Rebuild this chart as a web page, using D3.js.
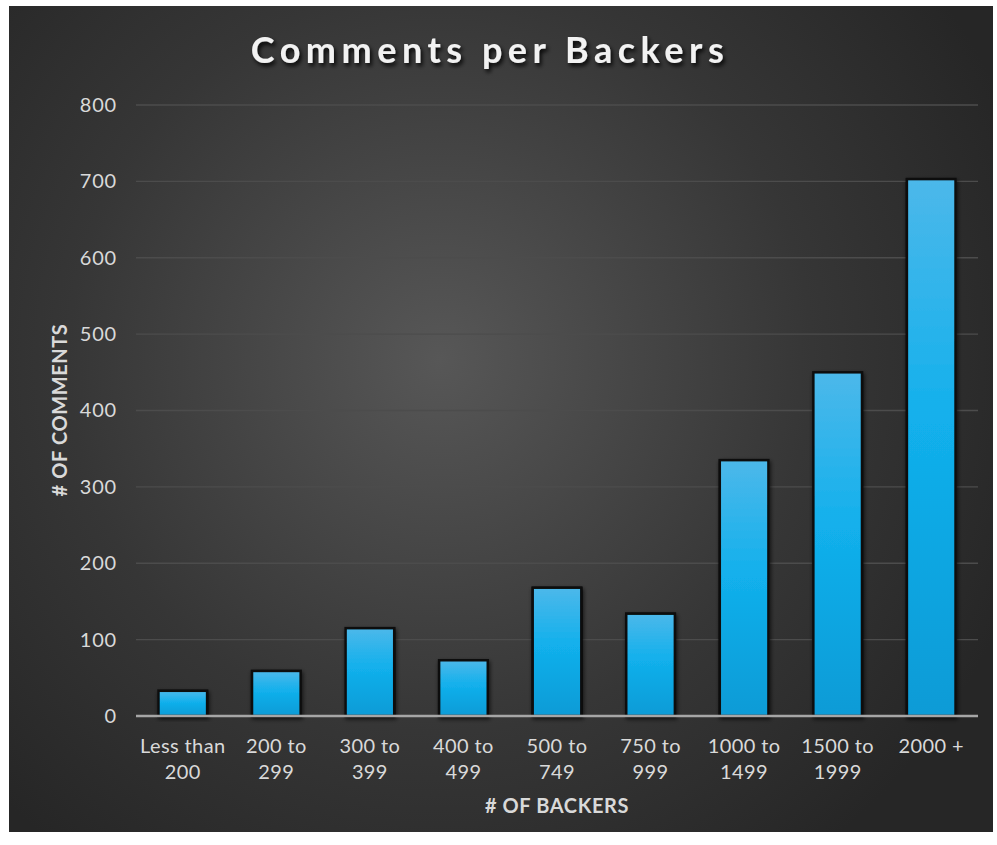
<!DOCTYPE html>
<html><head><meta charset="utf-8">
<script src="https://cdn.jsdelivr.net/npm/d3@7"></script>
<style>html,body{margin:0;padding:0;background:#fff;}svg{display:block;}</style>
</head><body>
<script>
const categories = [["Less than","200"],["200 to","299"],["300 to","399"],["400 to","499"],["500 to","749"],["750 to","999"],["1000 to","1499"],["1500 to","1999"],["2000 +"]];
const values = [33, 59, 115, 73, 168, 134, 335, 450, 703];
const yTicks = [0,100,200,300,400,500,600,700,800];
const title = "Comments per Backers";
const xTitle = "# OF BACKERS";
const yTitle = "# OF COMMENTS";

const W = 997, H = 845;
const svg = d3.select("body").append("svg").attr("width", W).attr("height", H);
const defs = svg.append("defs");
const rg = defs.append("radialGradient").attr("id","bg").attr("gradientUnits","userSpaceOnUse")
  .attr("cx",440).attr("cy",360).attr("r",620);
rg.append("stop").attr("offset","0%").attr("stop-color","#575757");
rg.append("stop").attr("offset","60%").attr("stop-color","#363636");
rg.append("stop").attr("offset","100%").attr("stop-color","#262626");
const bg = defs.append("linearGradient").attr("id","bar").attr("x1",0).attr("y1",0).attr("x2",0).attr("y2",1);
bg.append("stop").attr("offset","0%").attr("stop-color","#4cb8ea");
bg.append("stop").attr("offset","45%").attr("stop-color","#12b0ec");
bg.append("stop").attr("offset","100%").attr("stop-color","#0a9bd6");
const sh = defs.append("filter").attr("id","sh").attr("x","-20%").attr("y","-20%").attr("width","140%").attr("height","140%");
sh.append("feDropShadow").attr("dx",1).attr("dy",2).attr("stdDeviation",2).attr("flood-color","#000").attr("flood-opacity",0.7);
const tsh = defs.append("filter").attr("id","tsh").attr("x","-10%").attr("y","-30%").attr("width","120%").attr("height","160%");
tsh.append("feDropShadow").attr("dx",2).attr("dy",3).attr("stdDeviation",2).attr("flood-color","#000").attr("flood-opacity",0.9);

svg.append("rect").attr("x",9).attr("y",6).attr("width",984).attr("height",826).attr("fill","url(#bg)");

const m = {left:136, right:978, top:105, bottom:716};
const x = d3.scaleBand().domain(categories.map((d,i)=>i)).range([m.left,m.right]).paddingInner(0.48).paddingOuter(0.24);
const y = d3.scaleLinear().domain([0,800]).range([m.bottom,m.top]);

const font = "'Lato','Open Sans',sans-serif";

// grid
svg.append("g").selectAll("line").data(yTicks.filter(t=>t>0)).join("line")
  .attr("x1",m.left).attr("x2",m.right).attr("y1",d=>y(d)).attr("y2",d=>y(d))
  .attr("stroke","#4c4c4c").attr("stroke-width",1.3);

// y axis labels
const yAxis = d3.axisLeft(y).tickValues(yTicks).tickSize(0).tickPadding(19);
const ya = svg.append("g").attr("transform",`translate(${m.left},0)`).call(yAxis);
ya.select(".domain").remove();
ya.selectAll("text").attr("fill","#d9d9d9").style("font-family",font).style("font-size","20px").style("letter-spacing","0.8px");

// bars
svg.append("g").selectAll("rect").data(values).join("rect")
  .attr("x",(d,i)=>x(i)).attr("width",x.bandwidth())
  .attr("y",d=>y(d)).attr("height",d=>y(0)-y(d))
  .attr("fill","url(#bar)").attr("stroke","#0b0b0b").attr("stroke-width",2.5)
  .attr("filter","url(#sh)");

// baseline
svg.append("line").attr("x1",m.left).attr("x2",m.right).attr("y1",y(0)).attr("y2",y(0))
  .attr("stroke","#a6a6a6").attr("stroke-width",2.5);

// x labels
const xl = svg.append("g").selectAll("text").data(categories).join("text")
  .attr("x",(d,i)=>x(i)+x.bandwidth()/2).attr("y",753)
  .attr("text-anchor","middle").attr("fill","#d9d9d9")
  .style("font-family",font).style("font-size","20px").style("letter-spacing","0.4px");
xl.each(function(d){
  const t = d3.select(this);
  d.forEach((s,j)=>t.append("tspan").attr("x",t.attr("x")).attr("dy",j?26:0).text(s));
});

// titles
svg.append("text").attr("x",490).attr("y",63).attr("text-anchor","middle")
  .attr("fill","#f2f2f2").style("font-family",font).style("font-weight","bold")
  .style("font-size","36px").style("letter-spacing","5.5px").attr("filter","url(#tsh)").text(title);
svg.append("text").attr("x",557).attr("y",813).attr("text-anchor","middle")
  .attr("fill","#d9d9d9").style("font-family",font).style("font-weight","bold")
  .style("font-size","20px").style("letter-spacing","0.6px").text(xTitle);
svg.append("text").attr("transform","translate(67,410) rotate(-90)").attr("text-anchor","middle")
  .attr("fill","#d9d9d9").style("font-family",font).style("font-weight","bold")
  .style("font-size","20px").style("letter-spacing","0.6px").text(yTitle);
</script>
</body></html>
